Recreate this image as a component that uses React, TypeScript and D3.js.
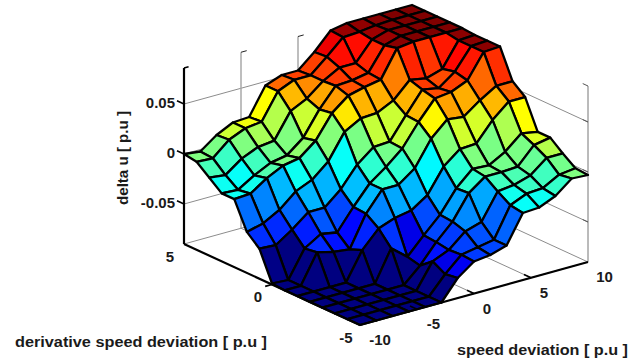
import React, { useRef, useEffect } from 'react';
import * as d3 from 'd3';

const xValues = d3.range(15).map(i => -10 + (i * 20) / 14);
const yValues = d3.range(15).map(j => -5 + (j * 10) / 14);
const xTicks = [-10, -5, 0, 5, 10];
const yTicks = [-5, 0, 5];
const zTicks = [-0.05, 0, 0.05];

// first row is y = -5, last row is y = 5
const zRows = [
  [-.09, -.09, -.09, -.09, -.09, -.09, -.07, -.058, -.056, -.051, -.023, -.022, -.015, -.002, -.003],
  [-.09, -.09, -.09, -.09, -.09, -.09, -.072, -.057, -.054, -.051, -.021, -.014, -.013, -.004, -.002],
  [-.09, -.09, -.09, -.09, -.09, -.09, -.065, -.058, -.044, -.039, -.013, -.011, -.006, .007, .007],
  [-.09, -.09, -.09, -.09, -.09, -.09, -.075, -.056, -.04, -.016, -.004, -.004, -.003, .014, .017],
  [-.09, -.09, -.09, -.09, -.09, -.059, -.072, -.055, -.039, -.017, -.002, -.003, .006, .02, .017],
  [-.09, -.09, -.09, -.09, -.062, -.045, -.039, -.036, -.025, -.001, .012, .013, .032, .046, .046],
  [-.09, -.09, -.061, -.065, -.067, -.036, -.016, -.016, -.004, .021, .036, .034, .046, .056, .056],
  [-.089, -.09, -.063, -.053, -.056, -.035, -.016, -.004, .01, .032, .051, .053, .06, .084, .085],
  [-.06, -.061, -.05, -.037, -.037, -.023, -.003, .01, .011, .033, .054, .051, .063, .084, .085],
  [-.049, -.045, -.036, -.022, -.015, -.001, .024, .033, .034, .042, .058, .055, .06, .084, .085],
  [-.022, -.021, -.01, -.002, .001, .014, .037, .05, .054, .057, .084, .086, .086, .086, .086],
  [-.022, -.023, -.013, -.005, -.002, .011, .035, .054, .055, .058, .081, .086, .086, .086, .086],
  [-.012, -.014, -.002, .005, .007, .032, .04, .053, .062, .062, .081, .086, .086, .086, .086],
  [-.002, -.003, .011, .018, .02, .046, .053, .053, .067, .082, .083, .085, .086, .086, .086],
  [0, -.002, .01, .018, .019, .046, .052, .052, .066, .083, .086, .086, .086, .086, .086],
];

const zMin = -0.09;
const zMax = 0.086;
const jetStops = ['#000080', '#0000ff', '#00ffff', '#ffff00', '#ff0000', '#800000'];

function App() {
  const svgRef = useRef<SVGSVGElement>(null);

  useEffect(() => {
    const svg = d3.select(svgRef.current);
    svg.selectAll('*').remove();

    const xPos = d3.scaleLinear().domain([-10, 10]).range([0, 1]);
    const yPos = d3.scaleLinear().domain([-5, 5]).range([0, 1]);
    const zPos = d3.scaleLinear().domain([zMin, zMax]).range([0, 176]);
    const jet = d3.scaleLinear<string>()
      .domain([0, 0.125, 0.375, 0.625, 0.875, 1].map(t => zMin + t * (zMax - zMin)))
      .range(jetStops)
      .clamp(true);

    // orthographic view, the front floor corner is x=-10, y=-5
    const project = (x: number, y: number, z: number): [number, number] => [
      360 + 228 * xPos(x) - 176 * yPos(y),
      325 - 63 * xPos(x) - 81 * yPos(y) - zPos(z),
    ];

    const seg = (a: number[], b: number[], stroke: string, w: number) =>
      svg.append('path')
        .attr('d', d3.line()([project(a[0], a[1], a[2]), project(b[0], b[1], b[2])]))
        .attr('stroke', stroke)
        .attr('stroke-width', w)
        .attr('fill', 'none');

    const grid = '#8c8c8c';

    // back walls and floor grid
    zTicks.forEach(z => {
      seg([-10, 5, z], [10, 5, z], grid, 1);
      seg([10, 5, z], [10, -5, z], grid, 1);
    });
    xTicks.forEach(x => {
      seg([x, -5, zMin], [x, 5, zMin], grid, 1);
      if (x > -10) seg([x, 5, zMin], [x, 5, zMax], '#a8a8a8', 1.5);
    });
    yTicks.forEach(y => {
      seg([-10, y, zMin], [10, y, zMin], grid, 1);
      seg([10, y, zMin], [10, y, zMax], '#777', 1);
    });

    // top ticks on the wall lines
    xTicks.slice(1, 3).forEach(x => seg([x, 5, zMax], [x + 0.5, 5, zMax], '#222', 1));
    seg([10, -5, zMax], [10, -4.7, zMax], '#555', 1);
    zTicks.forEach(z => seg([10, -5, z], [10, -4.7, z], '#555', 1));

    // surface, painted from the far corner to the viewer
    const quad = d3.line().curve(d3.curveLinearClosed);
    const g = svg.append('g');
    for (let j = yValues.length - 2; j >= 0; j--) {
      for (let i = xValues.length - 2; i >= 0; i--) {
        const corners: [number, number][] = [
          project(xValues[i], yValues[j], zRows[j][i]),
          project(xValues[i + 1], yValues[j], zRows[j][i + 1]),
          project(xValues[i + 1], yValues[j + 1], zRows[j + 1][i + 1]),
          project(xValues[i], yValues[j + 1], zRows[j + 1][i]),
        ];
        g.append('path')
          .attr('d', quad(corners))
          .attr('fill', jet(zRows[j][i]))
          .attr('stroke', '#000')
          .attr('stroke-width', 2.3)
          .attr('stroke-linejoin', 'round');
      }
    }

    // the three axis lines in black
    seg([-10, 5, zMin], [-10, 5, zMax], '#000', 2.2);
    seg([-10, 5, zMin], [-10, -5, zMin], '#000', 2.2);
    seg([-10, -5, zMin], [10, -5, zMin], '#000', 2.2);

    // axis ticks point outwards
    zTicks.forEach(z => seg([-10, 5, z], [-10, 5.4, z], '#000', 1.6));
    seg([-10, 5, zMax], [-9.6, 5, zMax], '#000', 1.4);
    xTicks.slice(1, 4).forEach(x => seg([x, -5, zMin], [x, -4.6, zMin], '#000', 1.6));
    seg([-10, 0, zMin], [-10.6, 0, zMin], '#000', 1.6);

    const label = (x: number, y: number, text: string, anchor = 'middle') =>
      svg.append('text')
        .attr('x', x)
        .attr('y', y)
        .attr('text-anchor', anchor)
        .attr('dominant-baseline', 'central')
        .attr('font-family', '"Liberation Sans", Arial, sans-serif')
        .attr('font-weight', 'bold')
        .attr('font-size', 15)
        .attr('fill', '#1a1a1a')
        .text(text);

    zTicks.forEach(z => {
      const [px, py] = project(-10, 5, z);
      label(px - 9, py - 1.5, String(z), 'end');
    });
    xTicks.forEach(x => {
      const [px, py] = project(x, -5, zMin);
      label(px + 13 + (String(x).length - 1) * 3.5, py + 14.5, String(x));
    });
    yTicks.forEach(y => {
      const [px, py] = project(-10, y, zMin);
      label(px - 14, py + 12, String(y));
    });

    label(15, 342, 'derivative speed deviation [ p.u ]', 'start')
      .attr('font-size', 14)
      .attr('textLength', 252)
      .attr('lengthAdjust', 'spacingAndGlyphs');
    label(457, 350, 'speed deviation [ p.u ]', 'start')
      .attr('font-size', 14)
      .attr('textLength', 171)
      .attr('lengthAdjust', 'spacingAndGlyphs');
    label(0, 0, 'delta u [ p.u ]', 'middle')
      .attr('font-size', 14)
      .attr('x', null)
      .attr('y', null)
      .attr('textLength', 94)
      .attr('lengthAdjust', 'spacingAndGlyphs')
      .attr('transform', 'translate(122.5,158) rotate(-90)');
  }, []);

  return (
    <svg
      ref={svgRef}
      width={644}
      height={362}
      style={{ position: 'absolute', left: 0, top: 0, background: '#fff' }}
    />
  );
}

export default App;
